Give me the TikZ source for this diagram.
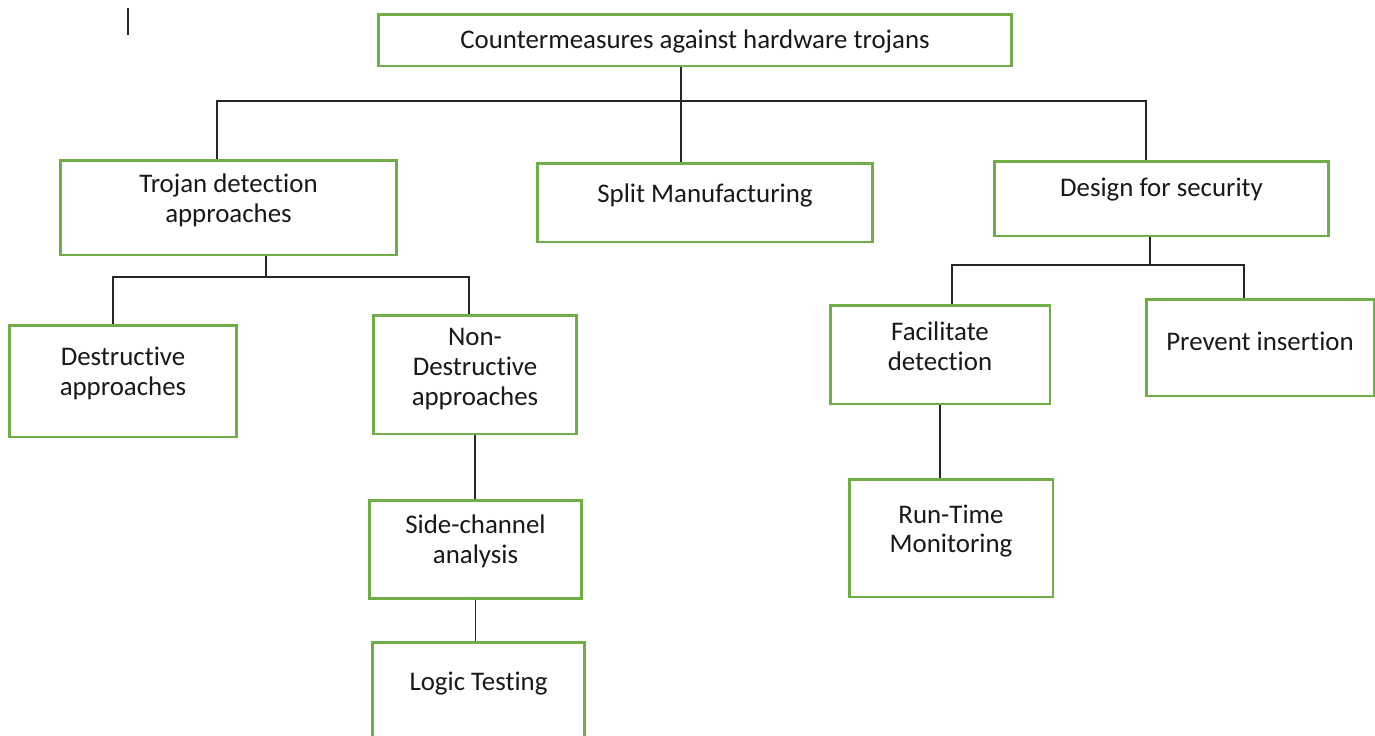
\documentclass[tikz,border=0pt]{standalone}
\usepackage{fontspec}
\setmainfont[Ligatures={NoCommon}]{Carlito}
\usepackage{xcolor}
\usepackage{tikz}
\usetikzlibrary{positioning}
\definecolor{boxGreen}{RGB}{112,173,71}

\begin{document}
\begin{tikzpicture}[x=0.02cm, y=-0.02cm, font=\fontsize{15.3}{17}\selectfont]
\tikzstyle{box}=[rectangle, draw=boxGreen, line width=1.7pt, fill=white, inner sep=0pt]
\tikzstyle{lbl}=[align=center, text=black!90, yshift=0.14cm]
\tikzstyle{link}=[draw=black!85, line width=0.7pt]
\useasboundingbox (0,0) rectangle (1375,735);
\node[box, minimum width=12.68cm, minimum height=1.04cm, label={[lbl, yshift=-0.16cm]center:{Countermeasures against hardware trojans}}] (ctm) at (695,40) {};
\node[box, minimum width=6.74cm, minimum height=1.90cm, label={[lbl]center:{Trojan detection\\approaches}}] (tda) at (228.5,207.5) {};
\node[box, minimum width=6.72cm, minimum height=1.58cm, label={[lbl]center:{Split Manufacturing}}] (spm) at (705,202.5) {};
\node[box, minimum width=6.70cm, minimum height=1.50cm, label={[lbl, yshift=0.04cm]center:{Design for security}}] (dfs) at (1161.5,198.5) {};
\node[box, minimum width=4.56cm, minimum height=2.24cm, label={[lbl, yshift=0.02cm]center:{Destructive\\approaches}}] (dsa) at (123,381) {};
\node[box, minimum width=4.08cm, minimum height=2.38cm, label={[lbl, yshift=-0.03cm]center:{Non-\\Destructive\\approaches}}] (nda) at (475,374.5) {};
\node[box, minimum width=4.26cm, minimum height=1.96cm, label={[lbl, yshift=0.02cm]center:{Side-channel\\analysis}}] (sca) at (475.5,549) {};
\node[box, minimum width=4.26cm, minimum height=2.20cm, label={[lbl, yshift=0.12cm]center:{Logic Testing}}] (lgt) at (478.5,697) {};
\node[box, minimum width=4.40cm, minimum height=1.98cm, label={[lbl, yshift=0.03cm]center:{Facilitate\\detection}}] (fcd) at (940,354.5) {};
\node[box, minimum width=4.56cm, minimum height=1.94cm, label={[lbl, yshift=-0.01cm]center:{Prevent insertion}}] (pri) at (1260,347.5) {};
\node[box, minimum width=4.08cm, minimum height=2.36cm, label={[lbl]center:{Run-Time\\Monitoring}}] (rtm) at (951,538) {};
% junctions
\coordinate (j1) at (681,101);
\coordinate (j1l) at (217,101);
\coordinate (j1r) at (1146,101);
\coordinate (j2) at (266,277);
\coordinate (j2l) at (113,277);
\coordinate (j2r) at (469,277);
\coordinate (j3) at (1150,265);
\coordinate (j3l) at (952,265);
\coordinate (j3r) at (1244,265);
\coordinate (mk1) at (128,8);
\coordinate (mk2) at (128,35);
% top level
\draw[link] (j1 |- ctm.south) -- (j1 |- spm.north);
\draw[link] (j1l |- tda.north) -- (j1l) -- (j1r) -- (j1r |- dfs.north);
% detection branch
\draw[link] (j2 |- tda.south) -- (j2);
\draw[link] (j2l |- dsa.north) -- (j2l) -- (j2r) -- (j2r |- nda.north);
\draw[link] (nda.south) -- (nda.south |- sca.north);
\draw[link] (sca.south) -- (sca.south |- lgt.north);
% security branch
\draw[link] (j3 |- dfs.south) -- (j3);
\draw[link] (j3l |- fcd.north) -- (j3l) -- (j3r) -- (j3r |- pri.north);
\draw[link] (fcd.south) -- (fcd.south |- rtm.north);
% stray mark
\draw[link] (mk1) -- (mk2);
\end{tikzpicture}
\end{document}
